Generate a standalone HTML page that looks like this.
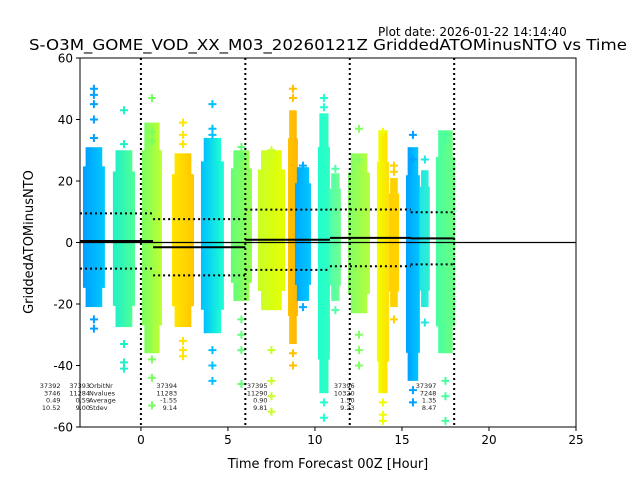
<!DOCTYPE html>
<html><head><meta charset="utf-8"><style>
body{margin:0;background:#fff;}
svg text{font-family:"DejaVu Sans","Liberation Sans",sans-serif;}
</style></head><body>
<svg id="chart" width="640" height="480" viewBox="0 0 640 480" xmlns="http://www.w3.org/2000/svg">
<defs id="defs"></defs>
<text x="378" y="36" font-size="12" fill="#000">Plot date: 2026-01-22 14:14:40</text>
<text x="328" y="50" font-size="15.5" text-anchor="middle" fill="#000" textLength="598" lengthAdjust="spacingAndGlyphs">S-O3M_GOME_VOD_XX_M03_20260121Z GriddedATOMinusNTO vs Time</text>
<g id="plot"></g>
<text x="328" y="468" font-size="13" text-anchor="middle">Time from Forecast 00Z [Hour]</text>
<text x="33" y="242" font-size="13" text-anchor="middle" transform="rotate(-90 33 242)">GriddedATOMinusNTO</text>
</svg>
<script>
const xTicks=[0,5,10,15,20,25];
const yTicks=[-60,-40,-20,0,20,40,60];
const stripX0=[-3.33,-1.61,0.06,1.78,3.45,5.17,6.72,8.45,8.85,10.17,10.86,11.9,13.56,14.25,15.23,16.03,16.95];
const stripX1=[-2.07,-0.34,1.21,3.05,4.77,6.38,8.28,9.02,9.77,10.86,11.49,13.16,14.25,14.83,16.03,16.6,18.05];
const stripLo=[-21,-27.5,-36,-27.5,-29.5,-19,-22,-33,-19,-49,-19,-23,-49,-21,-45,-21,-36];
const stripHi=[31,30,39,29,34,30,30,43,24.5,42,22.5,29,36.5,21,31,23.5,36.5];
const stripC0=["#00a0ff","#20f0c8","#78ff60","#ffe600","#00c0ff","#64ff78","#c8ff28","#ffc000","#00a8ff","#20ffd0","#50ffaa","#82ff64","#f0ff00","#ffd000","#00a0ff","#20e6e6","#46ffa0"];
const stripC1=["#00c8ff","#50ff96","#beff32","#ffc800","#1effd2","#96ff50","#e6ff00","#ffb800","#00c8ff","#30ffc0","#70ff90","#b4ff3c","#ffe000","#ffd400","#00c8ff","#30f0d0","#6eff82"];
const outliers=[[50,48,45,40,34,-25,-28],[43,32,-33,-39,-41],[47,36,33,-38,-44,-53],[39,35,32,-32,-35,-37],[45,37,35,-35,-40,-45],[31,28,-25,-30,-35,-46],[30,28,-35,-45,-50,-55],[50,47,-36,-40],[25,-21],[47,44,-52,-57],[24,-22],[37,27,-30,-35,-40],[36,-52,-56,-58],[25,23,-25],[35,27,-48,-52],[27,-26],[35,33,-45,-50,-58]];
const orbitStart=[-3.5,0.7,6,10.86,15.5];
const orbitEnd=[0.7,6,10.86,15.5,18];
const orbitMean=[0.49,-1.55,0.90,1.50,1.35];
const orbitStd=[9.0,9.14,9.81,9.23,8.47];
const orbitLines=[0,6,12,18];
const annX=[-6.0,-4.3,0.7,5.9,10.9,15.6];
const annLines=[["37392","3746","0.49","10.52"],["37393","11284","0.59","9.00"],["37394","11283","-1.55","9.14"],["37395","11290","0.90","9.81"],["37396","10320","1.50","9.23"],["37397","7248","1.35","8.47"]];
const annLabels=["OrbitNr","Nvalues","Average","Stdev"];

const L=80,R=576,T=58,B=427,XMIN=-3.5,XMAX=25,YMIN=-60,YMAX=60;
const X=h=>L+(h-XMIN)/(XMAX-XMIN)*(R-L);
const Y=v=>B-(v-YMIN)/(YMAX-YMIN)*(B-T);
const NS="http://www.w3.org/2000/svg";
const g=document.getElementById('plot');
const defs=document.getElementById('defs');
function mk(tag,attrs,parent){const e=document.createElementNS(NS,tag);for(const k in attrs)e.setAttribute(k,attrs[k]);(parent||g).appendChild(e);return e;}
const cp=mk('clipPath',{id:'clip'},defs);
mk('rect',{x:L,y:T,width:R-L,height:B-T},cp);
const pg=mk('g',{'clip-path':'url(#clip)'});


stripX0.forEach((x0,i)=>{
  const gr=mk('linearGradient',{id:'gr'+i,x1:0,x2:1,y1:0,y2:0},defs);
  mk('stop',{offset:0,'stop-color':stripC0[i]},gr);mk('stop',{offset:1,'stop-color':stripC1[i]},gr);
  const x1=X(x0),x2=X(stripX1[i]),w=x2-x1,yt=Y(stripHi[i]),yb=Y(stripLo[i]);
  const r=mk('rect',{x:x1+w*0.12,y:yt,width:w*0.76,height:yb-yt,fill:'url(#gr'+i+')'},pg);
  
  
  const r2=mk('rect',{x:x1,y:yt+(yb-yt)*0.12,width:w,height:(yb-yt)*0.76,fill:'url(#gr'+i+')'},pg);
  
  
  const cx=(x1+x2)/2;
  outliers[i].forEach(v=>{
    const p=mk('path',{d:`M${cx-4},${Y(v)}h8M${cx},${Y(v)-4}v8`,stroke:stripC0[i],'stroke-width':2},pg);
    
    
  });
});
const z=mk('line',{x1:L,x2:R,y1:Y(0),y2:Y(0),stroke:'#000','stroke-width':1.2},pg);


orbitLines.forEach(h=>{
  const l=mk('line',{x1:X(h),x2:X(h),y1:T,y2:B,stroke:'#000','stroke-width':2,'stroke-dasharray':'2,3'},pg);
  
  
});
let md='',up='',dn='';
orbitStart.forEach((s,i)=>{
  const e=orbitEnd[i];
  md+=`M${X(s)},${Y(orbitMean[i])}H${X(e)}`;
  up+=`M${X(s)},${Y(orbitMean[i]+orbitStd[i])}H${X(e)}`;
  dn+=`M${X(s)},${Y(orbitMean[i]-orbitStd[i])}H${X(e)}`;
});
const mp=mk('path',{d:md,stroke:'#000','stroke-width':2,fill:'none'},pg);


[up,dn].forEach(d=>{const p=mk('path',{d:d,stroke:'#000','stroke-width':2,'stroke-dasharray':'2,3',fill:'none'},pg);

});
annLines.forEach((col,i)=>{
  col.forEach((t,j)=>{
    const tx=mk('text',{x:X(annX[i])+24,y:388+j*7.3,'font-size':6.5,'text-anchor':'end',fill:'#222'});
    tx.textContent=t;
    
    
  });
});
annLabels.forEach((t,j)=>{
  const tx=mk('text',{x:89,y:388+j*7.3,'font-size':6.5,fill:'#222'});
  tx.textContent=t;
  
  
});
const fr=mk('rect',{x:L,y:T,width:R-L,height:B-T,fill:'none',stroke:'#000','stroke-width':1});


xTicks.forEach(t=>{
  mk('line',{x1:X(t),x2:X(t),y1:B,y2:B+4,stroke:'#000'});
  const tx=mk('text',{x:X(t),y:B+17,'font-size':12,'text-anchor':'middle'});tx.textContent=t;
  
  
});
yTicks.forEach(t=>{
  mk('line',{x1:L-4,x2:L,y1:Y(t),y2:Y(t),stroke:'#000'});
  const tx=mk('text',{x:L-7,y:Y(t)+4.5,'font-size':12,'text-anchor':'end'});tx.textContent=t;
  
  
});
</script>
</body></html>
